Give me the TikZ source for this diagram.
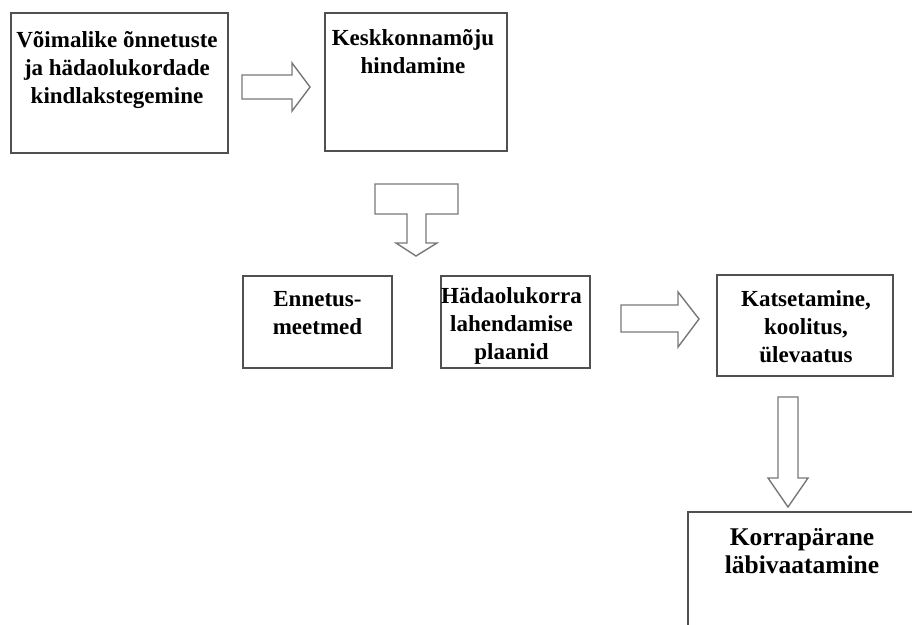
\documentclass[tikz,border=0pt]{standalone}
\usepackage{fontspec}
\setmainfont{Liberation Serif}
\definecolor{boxline}{RGB}{80,80,80}
\definecolor{arrline}{RGB}{120,120,120}
\tikzset{
  box/.style={draw=boxline, line width=1.8pt, fill=white, inner sep=0pt, outer sep=0pt},
  txt/.style={anchor=north, inner sep=0pt, align=center, font=\bfseries\fontsize{23}{28}\selectfont},
  bigtxt/.style={txt, font=\bfseries\fontsize{25.5}{28}\selectfont},
  blockarrow/.style={draw=arrline, line width=1.4pt, fill=white, line join=miter},
}
\begin{document}
\begin{tikzpicture}[x=1pt,y=-1pt]
\useasboundingbox (0,0) rectangle (912,624);
\clip (0,0) rectangle (912,624);
\fill[white] (0,0) rectangle (912,624);

% boxes
\node[box, minimum width=217pt, minimum height=140pt] (b1) at (119.5,83) {};
\node[box, minimum width=182pt, minimum height=138pt] (b2) at (416,82) {};
\node[box, minimum width=149pt, minimum height=92pt] (b3) at (317.5,322) {};
\node[box, minimum width=149pt, minimum height=92pt] (b4) at (515.5,322) {};
\node[box, minimum width=176pt, minimum height=101pt] (b5) at (805,325.5) {};
\node[box, minimum width=272pt, minimum height=168pt] (b6) at (824,596) {};

% texts
\node[txt] (t1) at (117,30) {\rule{0pt}{17pt}Võimalike õnnetuste\\ja hädaolukordade\\kindlakstegemine};
\node[txt] (t2) at (413,28) {\rule{0pt}{17pt}Keskkonnamõju\\hindamine};
\node[txt] (t3) at (317.5,289.7) {\rule{0pt}{17pt}Ennetus-\\meetmed};
\node[txt] (t4) at (511.5,286) {\rule{0pt}{17pt}Hädaolukorra\\lahendamise\\plaanid};
\node[txt] (t5) at (806,289) {\rule{0pt}{17pt}Katsetamine,\\koolitus,\\ülevaatus};
\node[bigtxt] (t6) at (802,526) {\rule{0pt}{19pt}Korrapärane\\läbivaatamine};

% block arrows
\draw[blockarrow] (242,75) -- (292,75) -- (292,63) -- (310,87) -- (292,111) -- (292,99) -- (242,99) -- cycle;
\draw[blockarrow] (375,184) -- (458,184) -- (458,214) -- (426,214) -- (426,243) -- (437,243) -- (416,256) -- (396,243) -- (407,243) -- (407,214) -- (375,214) -- cycle;
\draw[blockarrow] (621,305) -- (678,305) -- (678,292) -- (699,319) -- (678,347) -- (678,332) -- (621,332) -- cycle;
\draw[blockarrow] (778,397) -- (798,397) -- (798,478) -- (808,478) -- (788,507) -- (768,478) -- (778,478) -- cycle;
\end{tikzpicture}
\end{document}
